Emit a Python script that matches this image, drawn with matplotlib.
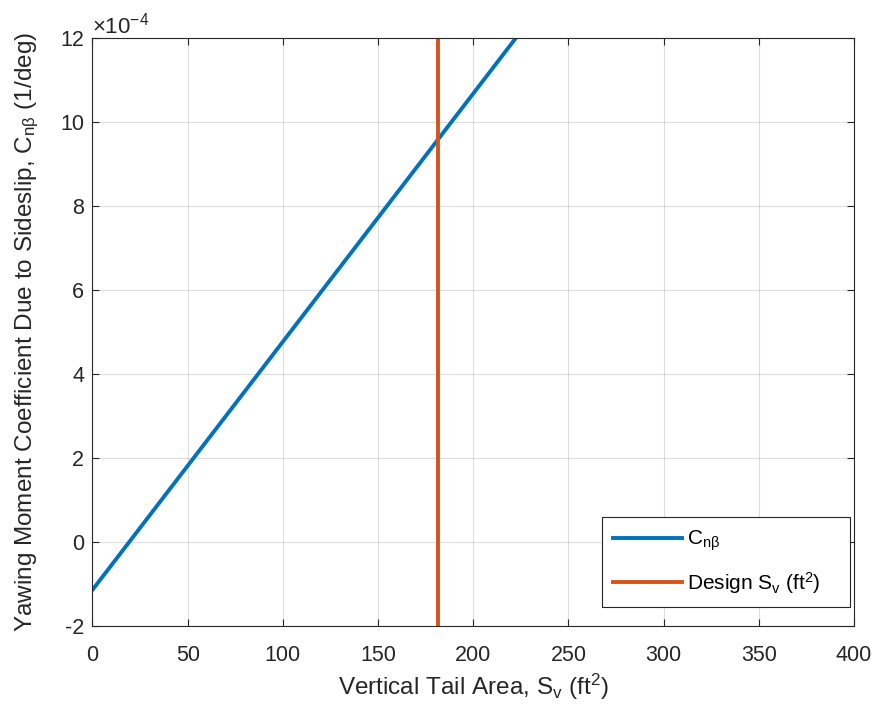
import numpy as np
import matplotlib
matplotlib.use("Agg")
import matplotlib.pyplot as plt
from matplotlib.ticker import ScalarFormatter

# ---------------------------------------Datos---------------------------------------
sv_area = [0.0, 240.0]              # ft^2
cn_beta = [-1.14e-4, 13.04e-4]      # 1/deg
sv_design = 181.6                   # ft^2
design_y = [-2e-4, 12e-4]

x_ticks = [0, 50, 100, 150, 200, 250, 300, 350, 400]
y_ticks = np.array([-2, 0, 2, 4, 6, 8, 10, 12]) * 1e-4

# ---------------------------------------Estilo---------------------------------------
plt.rcParams['font.family'] = ['Liberation Sans', 'DejaVu Sans']
plt.rcParams['axes.unicode_minus'] = False
plt.rcParams['mathtext.fontset'] = 'custom'
plt.rcParams['mathtext.rm'] = 'Liberation Sans'
plt.rcParams['mathtext.it'] = 'Liberation Sans:italic'
plt.rcParams['mathtext.default'] = 'regular'

axis_col = '#262626'


class Exp4Formatter(ScalarFormatter):
    # MATLAB pone el exponente fijo en 10^-4
    def _set_order_of_magnitude(self):
        self.orderOfMagnitude = -4

    def _set_format(self):
        self.format = '%d'


fig = plt.figure(figsize=(8.75, 7.15), dpi=100)
ax = fig.add_axes([0.1057, 0.1245, 0.8703, 0.8224])

ax.plot(sv_area, cn_beta, color='#0072BD', lw=2.8, label=r'C$_{n\beta}$')
ax.plot([sv_design, sv_design], design_y, color='#D95319', lw=2.8,
        label=r'Design S$_{v}$ (ft$^{2}$)')

ax.set_xlim(0, 400)
ax.set_ylim(-2e-4, 12e-4)
ax.set_xticks(x_ticks)
ax.set_yticks(y_ticks)

ax.yaxis.set_major_formatter(Exp4Formatter(useMathText=True))
ax.yaxis.get_offset_text().set_fontsize(16)
ax.yaxis.get_offset_text().set_color(axis_col)

ax.grid(True, color='#262626', alpha=0.15, lw=0.8)
ax.tick_params(direction='in', top=True, right=True, labelsize=15.5,
               colors=axis_col, length=5, width=0.8)
ax.tick_params(axis='x', pad=14)
ax.tick_params(axis='y', pad=6)
for s in ax.spines.values():
    s.set_color(axis_col)
    s.set_linewidth(0.8)

ax.set_xlabel(r'Vertical Tail Area, S$_{v}$ (ft$^{2}$)', fontsize=17.5,
              color=axis_col, labelpad=4)
ax.set_ylabel(r'Yawing Moment Coefficient Due to Sideslip, C$_{n\beta}$ (1/deg)',
              fontsize=17.5, color=axis_col, labelpad=14)

# leyenda con el ancho de la original (MATLAB deja hueco a la derecha)
leg = ax.legend(loc='lower left', mode='expand', fontsize=15, fancybox=False,
                framealpha=1, edgecolor=axis_col, handlelength=3.3,
                handletextpad=0.25, borderpad=0.55, labelspacing=0.8,
                borderaxespad=0, bbox_to_anchor=(0.669, 0.032, 0.326, 0.15))
leg.get_frame().set_linewidth(0.8)

fig.savefig('out.png', dpi=100, facecolor='white')
